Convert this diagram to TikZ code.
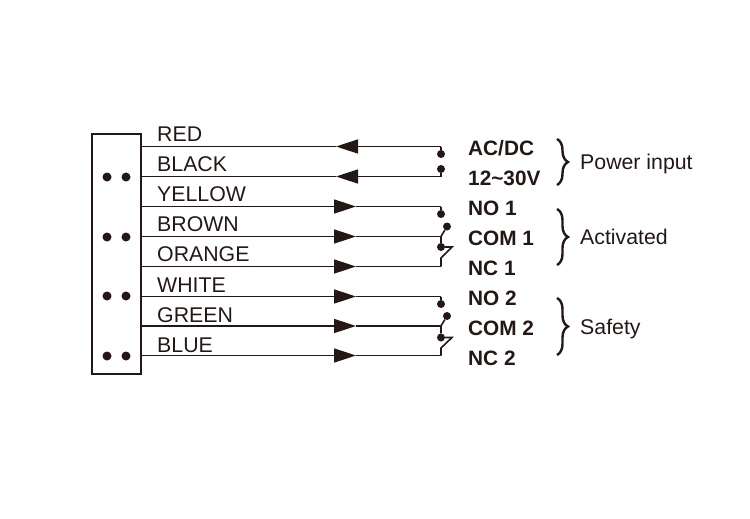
\documentclass[tikz,border=0pt]{standalone}
\usepackage{fontspec}
\setmainfont{Liberation Sans}
\usetikzlibrary{arrows.meta,decorations.pathreplacing}

\definecolor{ink}{HTML}{231815}
\tikzset{
  wire/.style={draw=ink, line width=1.6pt},
  flow/.style={wire, -{Triangle[length=22pt,width=14pt]}},
  colorname/.style={anchor=base west, inner sep=0pt, text=ink, font=\fontsize{21.3}{24}\selectfont},
  pinname/.style={anchor=base west, inner sep=0pt, text=ink, font=\fontsize{20.8}{24}\selectfont\bfseries},
  groupname/.style={anchor=base west, inner sep=0pt, text=ink, font=\fontsize{21.3}{24}\selectfont},
  pin/.style={circle, fill=ink, inner sep=0pt, minimum size=8pt},
  pindot/.style={circle, fill=ink, inner sep=0pt, minimum size=9pt},
  groupbrace/.style={draw=ink, line width=2.4pt, decorate, decoration={brace, amplitude=11pt}},
}

\begin{document}
\begin{tikzpicture}[x=1pt, y=-1pt]
\useasboundingbox (0,0) rectangle (750,519);

% connector block
\node[draw=ink, line width=2.6pt, inner sep=0pt, minimum width=49pt, minimum height=240pt] (block) at (116.5,254) {};
\foreach \row/\y in {1/177, 2/237, 3/296, 4/356} {
  \node[pindot] (dl\row) at (107,\y) {};
  \node[pindot] (dr\row) at (126,\y) {};
}

% wire ends
\foreach \n/\y in {1/146.5, 2/176.5, 3/206.5, 4/236.5, 5/266.5, 6/296.5, 7/326, 8/355.5} {
  \coordinate (a\n) at (141,\y);
  \coordinate (e\n) at (441,\y);
}

% colour names
\foreach \n/\y/\txt in {1/141.5/RED, 2/171.5/BLACK, 3/201.5/YELLOW, 4/231.5/BROWN, 5/261.5/ORANGE, 6/292/WHITE, 7/322/GREEN, 8/352/BLUE} {
  \node[colorname] (c\n) at (157,\y) {\txt};
}

% wires going in
\foreach \n in {1,2} {
  \coordinate (t\n) at (336,0 |- a\n);
  \draw[flow] (e\n) -- (t\n);
  \draw[wire] (t\n) -- (a\n);
}
% wires going out
\foreach \n in {3,...,8} {
  \coordinate (t\n) at (356,0 |- a\n);
  \draw[flow] (a\n) -- (t\n);
  \draw[wire] (t\n) -- (e\n);
}

% power contacts
\node[pin] (p1) at (441,154) {};
\node[pin] (p2) at (441,169) {};
\draw[wire] (e1) -- (p1);
\draw[wire] (e2) -- (p2);

% activated contacts
\node[pin] (no1) at (441,214) {};
\node[pin] (up1) at (447,226.5) {};
\node[pin] (com1) at (441,247) {};
\coordinate (bend1) at (452,247);
\coordinate (low1) at (441,258);
\draw[wire] (e3) -- (no1);
\draw[wire] (up1) -- (e4) -- (com1) -- (bend1) -- (low1) -- (e5);

% safety contacts
\node[pin] (no2) at (441,304) {};
\node[pin] (up2) at (447,316) {};
\node[pin] (com2) at (441,337.5) {};
\coordinate (bend2) at (452,337.5);
\coordinate (low2) at (441,348);
\draw[wire] (e6) -- (no2);
\draw[wire] (up2) -- (e7) -- (com2) -- (bend2) -- (low2) -- (e8);

% pin names
\foreach \n/\y/\txt in {1/155/AC\slash DC, 2/185.5/12\textasciitilde 30V, 3/215.5/NO 1, 4/245.5/COM 1, 5/275.5/NC 1, 6/305.5/NO 2, 7/335.5/COM 2, 8/365.5/NC 2} {
  \node[pinname] (n\n) at (468,\y) {\txt};
}

% groups
\coordinate (b1a) at (557,139);
\coordinate (b1b) at (557,185);
\coordinate (b2a) at (557,209);
\coordinate (b2b) at (557,265);
\coordinate (b3a) at (557,298);
\coordinate (b3b) at (557,355);
\draw[groupbrace] (b1a) -- (b1b);
\draw[groupbrace] (b2a) -- (b2b);
\draw[groupbrace] (b3a) -- (b3b);
\node[groupname] (power) at (580,169.5) {Power input};
\node[groupname] (active) at (580,244) {Activated};
\node[groupname] (safety) at (580,334) {Safety};
\end{tikzpicture}
\end{document}
